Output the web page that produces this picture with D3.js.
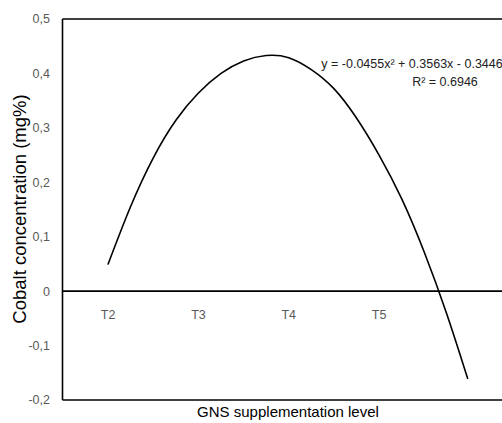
<!DOCTYPE html>
<html>
<head>
<meta charset="utf-8">
<script src="https://cdn.jsdelivr.net/npm/d3@7"></script>
<style>
  html, body { margin: 0; padding: 0; background: #fff; }
  svg { display: block; }
</style>
</head>
<body>
<svg id="chart" width="502" height="423"></svg>
<script>
// Category labels along the zero line (positions 1..4 of the fitted curve)
const categories = ["T2", "T3", "T4", "T5"];
const categoryPos = [1, 2, 3, 4];

// Polynomial trendline sampled at quarter-category steps
const curveX = [1, 1.25, 1.5, 1.75, 2, 2.25, 2.5, 2.75, 3, 3.25, 3.5, 3.75, 4, 4.25, 4.5, 4.75, 4.98];
const curveY = [0.05, 0.156, 0.245, 0.314, 0.364, 0.400, 0.423, 0.433, 0.429, 0.407, 0.372, 0.318, 0.250, 0.170, 0.072, -0.042, -0.16];

// Y axis ticks (comma decimals)
const yTicks = [0.5, 0.4, 0.3, 0.2, 0.1, 0, -0.1, -0.2];
const yTickLabels = ["0,5", "0,4", "0,3", "0,2", "0,1", "0", "-0,1", "-0,2"];

const equationText = "y = -0.0455x² + 0.3563x - 0.3446";
const r2Text = "R² = 0.6946";
const xTitle = "GNS supplementation level";
const yTitle = "Cobalt concentration (mg%)";

const svg = d3.select("#chart");
const plotLeft = 62.5, plotTop = 19, plotBottom = 400, plotRight = 502;

const x = d3.scaleLinear().domain([0.5, 5.5]).range([63, 514.5]);
const y = d3.scaleLinear().domain([-0.2, 0.5]).range([plotBottom, plotTop]);

const labelFont = "'Liberation Sans', Arial, sans-serif";

// Y tick labels
svg.append("g").selectAll("text")
  .data(yTicks)
  .join("text")
  .attr("x", 50)
  .attr("y", d => y(d))
  .attr("dy", "0.35em")
  .attr("text-anchor", "end")
  .attr("fill", "#595959")
  .style("font-family", labelFont)
  .style("font-size", "12.5px")
  .text((d, i) => yTickLabels[i]);

// Plot frame: top, left, bottom
const frame = svg.append("g").attr("stroke", "#000").attr("stroke-width", 1.6).attr("fill", "none");
frame.append("line").attr("x1", plotLeft).attr("x2", plotRight).attr("y1", plotTop).attr("y2", plotTop);
frame.append("line").attr("x1", plotLeft).attr("x2", plotLeft).attr("y1", plotTop).attr("y2", plotBottom);
frame.append("line").attr("x1", plotLeft).attr("x2", plotRight).attr("y1", plotBottom).attr("y2", plotBottom);

// Zero line acting as the category axis
svg.append("line")
  .attr("x1", plotLeft).attr("x2", plotRight)
  .attr("y1", y(0)).attr("y2", y(0))
  .attr("stroke", "#000").attr("stroke-width", 1.6);

// Category labels
svg.append("g").selectAll("text")
  .data(categories)
  .join("text")
  .attr("x", (d, i) => x(categoryPos[i]))
  .attr("y", y(0) + 28)
  .attr("text-anchor", "middle")
  .attr("fill", "#595959")
  .style("font-family", labelFont)
  .style("font-size", "12.5px")
  .text(d => d);

// Trendline
const pts = curveX.map((v, i) => [v, curveY[i]]);
svg.append("path")
  .datum(pts)
  .attr("fill", "none")
  .attr("stroke", "#000")
  .attr("stroke-width", 1.6)
  .attr("stroke-linecap", "round")
  .attr("d", d3.line().x(d => x(d[0])).y(d => y(d[1])).curve(d3.curveNatural));

// Equation and R²
svg.append("text")
  .attr("x", 412).attr("y", 67.5)
  .attr("text-anchor", "middle")
  .attr("fill", "#222")
  .style("font-family", labelFont)
  .style("font-size", "12.5px")
  .text(equationText);
svg.append("text")
  .attr("x", 445).attr("y", 85.5)
  .attr("text-anchor", "middle")
  .attr("fill", "#222")
  .style("font-family", labelFont)
  .style("font-size", "12.5px")
  .text(r2Text);

// Axis titles
svg.append("text")
  .attr("x", 288).attr("y", 417)
  .attr("text-anchor", "middle")
  .attr("fill", "#000")
  .style("font-family", labelFont)
  .style("font-size", "15px")
  .text(xTitle);
svg.append("text")
  .attr("transform", "translate(25.5,209) rotate(-90)")
  .attr("text-anchor", "middle")
  .attr("fill", "#000")
  .style("font-family", labelFont)
  .style("font-size", "18.5px")
  .text(yTitle);
</script>
</body>
</html>
